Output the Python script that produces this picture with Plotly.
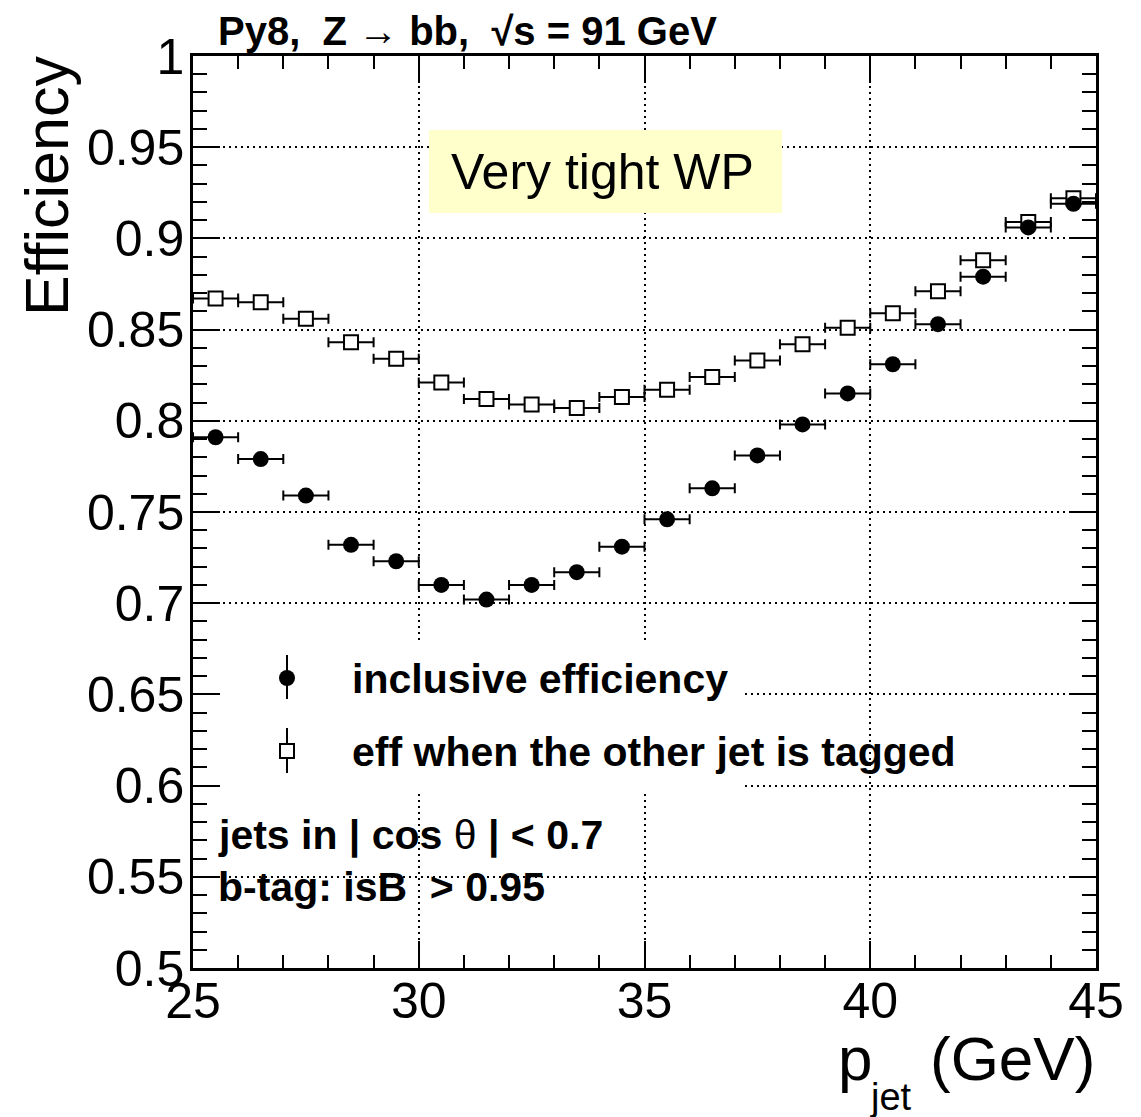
import plotly.graph_objects as go

# Jet momentum bins (GeV)
pt_bin_edges = [25, 26, 27, 28, 29, 30, 31, 32, 33, 34, 35,
                36, 37, 38, 39, 40, 41, 42, 43, 44, 45]

# Inclusive b-tag efficiency per bin
eff_inclusive = [0.791, 0.779, 0.759, 0.732, 0.723, 0.710, 0.702, 0.710, 0.717, 0.731,
                 0.746, 0.763, 0.781, 0.798, 0.815, 0.831, 0.853, 0.879, 0.906, 0.919]

# Efficiency when the other jet in the event is tagged
eff_other_tagged = [0.867, 0.865, 0.856, 0.843, 0.834, 0.821, 0.812, 0.809, 0.807, 0.813,
                    0.817, 0.824, 0.833, 0.842, 0.851, 0.859, 0.871, 0.888, 0.909, 0.922]

x_ticks = [25, 30, 35, 40, 45]
y_ticks = [0.5, 0.55, 0.6, 0.65, 0.7, 0.75, 0.8, 0.85, 0.9, 0.95, 1.0]
y_tick_text = ["0.5", "0.55", "0.6", "0.65", "0.7", "0.75", "0.8", "0.85", "0.9", "0.95", "1"]

pt_centers = [(lo + hi) / 2 for lo, hi in zip(pt_bin_edges[:-1], pt_bin_edges[1:])]
pt_halfwidths = [(hi - lo) / 2 for lo, hi in zip(pt_bin_edges[:-1], pt_bin_edges[1:])]

FONT = "Liberation Sans, Arial, Helvetica, sans-serif"
W, H = 1141, 1117
L, R, T, B = 193, 1096, 56, 968


def px(xp):
    return (xp - L) / (R - L)


def py(yp):
    return (B - yp) / (B - T)


err_style = dict(type="data", symmetric=True, color="black", thickness=2, width=5)

fig = go.Figure()

fig.add_trace(go.Scatter(
    x=pt_centers, y=eff_other_tagged, mode="markers",
    marker=dict(symbol="square", size=14, color="white",
                line=dict(color="black", width=2)),
    error_x=dict(array=pt_halfwidths, **err_style),
    showlegend=False,
))

fig.add_trace(go.Scatter(
    x=pt_centers, y=eff_inclusive, mode="markers",
    marker=dict(symbol="circle", size=16, color="black",
                line=dict(color="black", width=0)),
    error_x=dict(array=pt_halfwidths, **err_style),
    showlegend=False,
))

grid_dash = "2px,4px"
axis_common = dict(
    showline=True, linecolor="black", linewidth=2.5, mirror="ticks",
    ticks="inside", ticklen=27, tickwidth=2, tickcolor="black",
    showgrid=True, gridcolor="black", gridwidth=2, griddash=grid_dash,
    zeroline=False,
    tickfont=dict(family=FONT, size=50, color="black"),
)

fig.update_xaxes(
    range=[25, 45], tickvals=x_ticks,
    minor=dict(dtick=1, ticks="inside", ticklen=13, tickwidth=2,
               tickcolor="black", showgrid=False),
    ticklabelstandoff=-13,
    **axis_common,
)
fig.update_yaxes(
    range=[0.5, 1.0], tickvals=y_ticks, ticktext=y_tick_text,
    minor=dict(dtick=0.01, ticks="inside", ticklen=14, tickwidth=2,
               tickcolor="black", showgrid=False),
    ticklabelstandoff=-4,
    **axis_common,
)

shapes = []
# white legend panel hiding the grid behind it (kept clear of the axis ticks)
shapes.append(dict(type="rect", xref="paper", yref="paper", layer="above",
                   x0=px(222), x1=px(745), y0=py(792), y1=py(640),
                   fillcolor="white", line=dict(width=0)))
# working-point label box
shapes.append(dict(type="rect", xref="paper", yref="paper", layer="above",
                   x0=px(429), x1=px(782), y0=py(213), y1=py(130),
                   fillcolor="#ffffcc", line=dict(width=0)))
# legend symbols
shapes.append(dict(type="line", xref="paper", yref="paper",
                   x0=px(287), x1=px(287), y0=py(699), y1=py(655),
                   line=dict(color="black", width=2)))
shapes.append(dict(type="circle", xref="paper", yref="paper",
                   x0=px(279), x1=px(295), y0=py(686), y1=py(670),
                   fillcolor="black", line=dict(color="black", width=0)))
shapes.append(dict(type="line", xref="paper", yref="paper",
                   x0=px(287), x1=px(287), y0=py(773), y1=py(728),
                   line=dict(color="black", width=2)))
shapes.append(dict(type="rect", xref="paper", yref="paper",
                   x0=px(280), x1=px(294), y0=py(758), y1=py(744),
                   fillcolor="white", line=dict(color="black", width=2)))

annotations = []


def note(text, xp, yp, size, xanchor="left", yanchor="middle", angle=0, family=FONT):
    annotations.append(dict(
        text=text, x=px(xp), y=py(yp), xref="paper", yref="paper",
        xanchor=xanchor, yanchor=yanchor, textangle=angle, showarrow=False,
        font=dict(family=family, size=size, color="black"),
    ))


note("<b>Py8,  Z \u2192 bb,  \u221As = 91 GeV</b>", 216, 31, 40)
note("Very tight WP", 602, 172, 50, xanchor="center")
note("<b>inclusive efficiency</b>", 350, 679, 41)
note("<b>eff when the other jet is tagged</b>", 350, 752, 41)
note("<b>jets in | cos </b>\u03b8<b> | &lt; 0.7</b>", 216, 835, 41)
note("<b>b-tag: isB  &gt; 0.95</b>", 216, 887, 41)
note("Efficiency", 47, 186, 61, xanchor="center", angle=-90)
note("p", 836, 1058, 62)
note("jet", 868, 1097, 38)
note("(GeV)", 1097, 1058, 62, xanchor="right")

fig.update_layout(
    width=W, height=H,
    margin=dict(l=L, r=W - R, t=T, b=H - B, pad=0),
    paper_bgcolor="white", plot_bgcolor="white",
    shapes=shapes, annotations=annotations,
    font=dict(family=FONT, color="black"),
)

fig.write_html("out.html")
